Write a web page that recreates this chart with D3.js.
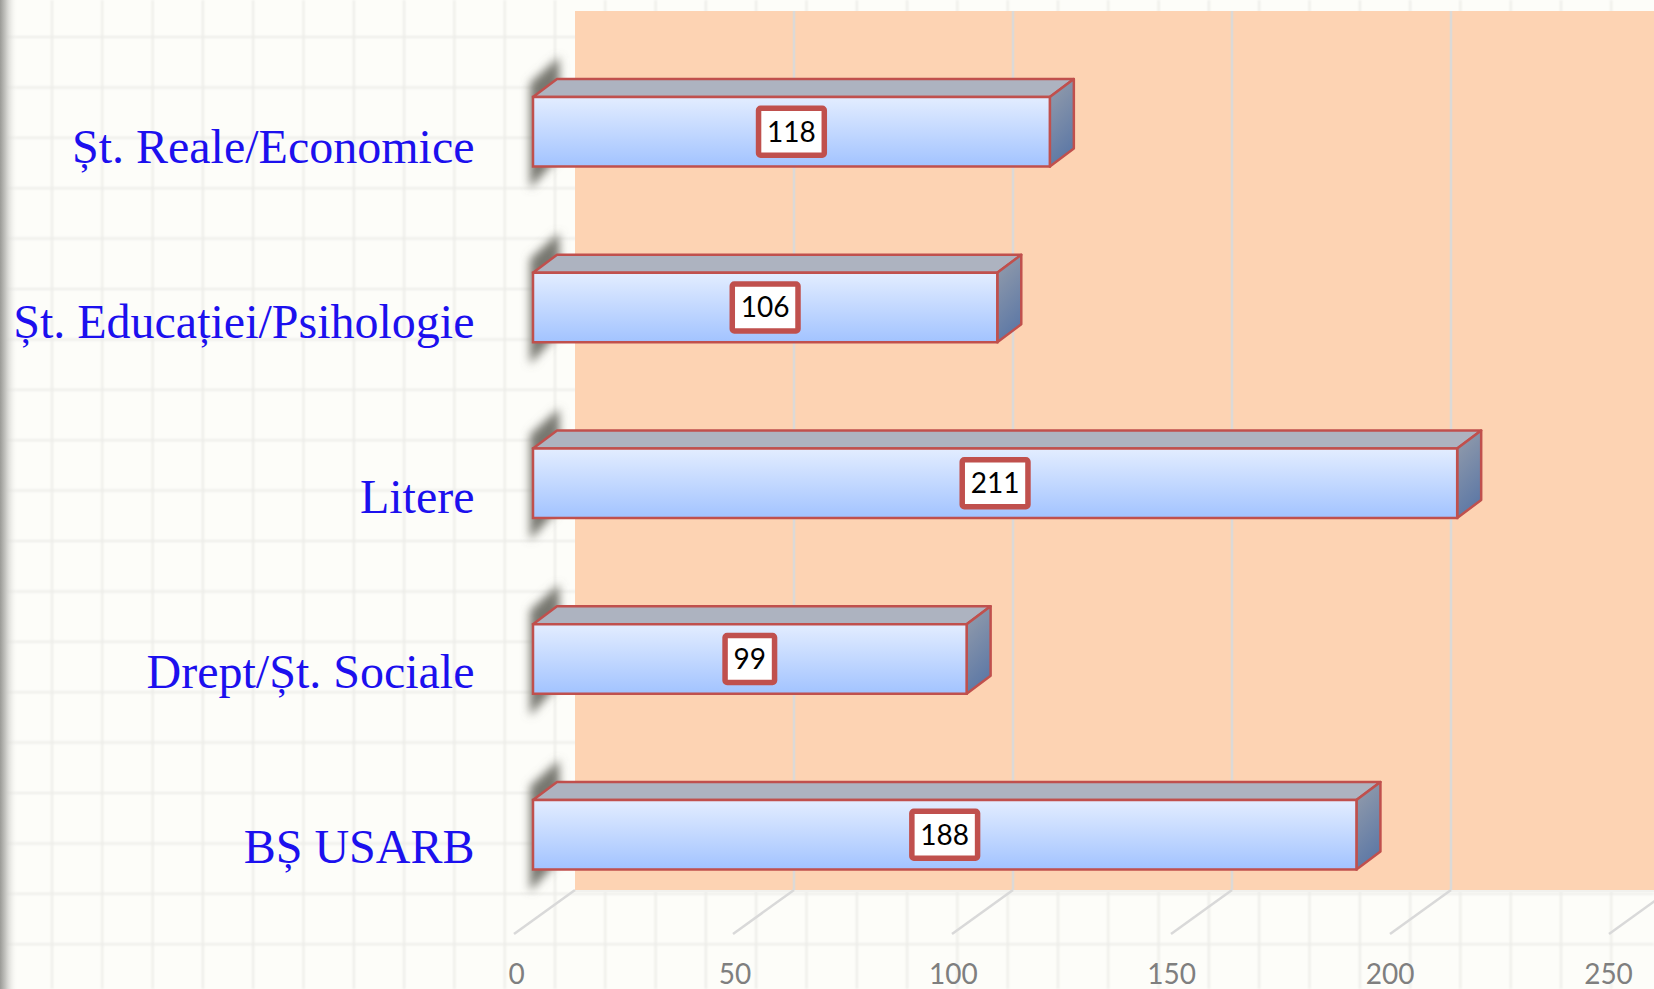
<!DOCTYPE html>
<html>
<head>
<meta charset="utf-8">
<script src="https://cdn.jsdelivr.net/npm/d3@7"></script>
<style>
    html, body { margin: 0; padding: 0; background: #fdfdf9; overflow: hidden; }
    svg { display: block; }
</style>
</head>
<body>
<div class="chart"></div>
<script>
let categories = ["Șt. Reale/Economice", "Șt. Educației/Psihologie", "Litere", "Drept/Șt. Sociale", "BȘ USARB"];
let values = [118, 106, 211, 99, 188];
let xTicks = [0, 50, 100, 150, 200, 250];

let width = 1654;
let height = 989;

let red = "#c0504d";

// depth of the fake 3d: bars are shallower than the chart floor
let barDx = 24, barDy = 18;
let wallDx = 42, floorDx = 19, floorTop = 890, floorBottom = 934;

let xScale = d3.scaleLinear()
    .domain([0, 250])
    .range([533, 1628]);

// tick labels sit on the front of the floor, a bit tighter than the bars
let axisScale = d3.scaleLinear()
    .domain([0, 250])
    .range([516, 1608]);

let yScale = d3.scaleBand()
    .domain(categories)
    .range([43.87, 922.62])
    .paddingInner(0.6046)
    .paddingOuter(0.3023);

// category text runs on a slightly tighter step than the bars
let labelY = d3.scalePoint()
    .domain(categories)
    .range([163, 863]);

let svg = d3.select(".chart").append("svg")
    .attr("width", width)
    .attr("height", height);

let defs = svg.append("defs");

let frontGrad = defs.append("linearGradient")
    .attr("id", "front")
    .attr("x1", 0).attr("y1", 0).attr("x2", 0).attr("y2", 1);
frontGrad.append("stop").attr("offset", "0%").attr("stop-color", "#e3edff");
frontGrad.append("stop").attr("offset", "100%").attr("stop-color", "#a2c3ff");

let sideGrad = defs.append("linearGradient")
    .attr("id", "side")
    .attr("x1", 0).attr("y1", 0).attr("x2", 0.3).attr("y2", 1);
sideGrad.append("stop").attr("offset", "0%").attr("stop-color", "#969eab");
sideGrad.append("stop").attr("offset", "100%").attr("stop-color", "#5e79a6");

let edgeGrad = defs.append("linearGradient")
    .attr("id", "edge")
    .attr("x1", 0).attr("y1", 0).attr("x2", 1).attr("y2", 0);
edgeGrad.append("stop").attr("offset", "0%").attr("stop-color", "#9a9a96");
edgeGrad.append("stop").attr("offset", "30%").attr("stop-color", "#c4c4c0");
edgeGrad.append("stop").attr("offset", "100%").attr("stop-color", "#fdfdf9").attr("stop-opacity", 0);

defs.append("filter")
    .attr("id", "blur")
    .attr("x", "-80%").attr("y", "-30%").attr("width", "260%").attr("height", "160%")
    .append("feGaussianBlur")
    .attr("stdDeviation", 5);

defs.append("filter")
    .attr("id", "soft")
    .attr("x", "0").attr("y", "0").attr("width", "100%").attr("height", "100%")
    .attr("filterUnits", "userSpaceOnUse")
    .append("feGaussianBlur")
    .attr("stdDeviation", 0.8);

// paper background, a square grid behind the chart
let paper = svg.append("g").attr("class", "paper");

let paperGrid = paper.append("g").attr("filter", "url(#soft)");

paperGrid.selectAll(".v")
    .data(d3.range(0, 33))
    .join("line")
    .attr("class", "v")
    .attr("x1", d => 52 + d * 50.3)
    .attr("x2", d => 52 + d * 50.3)
    .attr("y1", 0)
    .attr("y2", height)
    .attr("stroke", "#e6e6e2")
    .attr("stroke-width", 1.5);

paperGrid.selectAll(".h")
    .data(d3.range(0, 20))
    .join("line")
    .attr("class", "h")
    .attr("x1", 0)
    .attr("x2", width)
    .attr("y1", d => 37 + d * 50.4)
    .attr("y2", d => 37 + d * 50.4)
    .attr("stroke", "#ecece8")
    .attr("stroke-width", 2);

paper.append("rect")
    .attr("width", 18)
    .attr("height", height)
    .attr("fill", "url(#edge)");

// back wall
let wallLeft = xScale(0) + wallDx;

svg.append("rect")
    .attr("x", wallLeft)
    .attr("y", 11)
    .attr("width", width - wallLeft)
    .attr("height", floorTop - 11)
    .attr("fill", "#fdd3b3");

svg.append("line")
    .attr("x1", wallLeft)
    .attr("x2", width)
    .attr("y1", floorTop + 1)
    .attr("y2", floorTop + 1)
    .attr("stroke", "#f1f1ee")
    .attr("stroke-width", 2);

svg.selectAll(".wall-grid")
    .data(xTicks.slice(1))
    .join("line")
    .attr("class", "wall-grid")
    .attr("x1", d => xScale(d) + wallDx)
    .attr("x2", d => xScale(d) + wallDx)
    .attr("y1", 11)
    .attr("y2", floorTop)
    .attr("stroke", "#dcd9d6")
    .attr("stroke-width", 2.5);

svg.selectAll(".floor-grid")
    .data(xTicks)
    .join("line")
    .attr("class", "floor-grid")
    .attr("x1", d => xScale(d) + wallDx)
    .attr("x2", d => xScale(d) - floorDx)
    .attr("y1", floorTop)
    .attr("y2", floorBottom)
    .attr("stroke", "#d9d9d9")
    .attr("stroke-width", 2.5);

// value axis, only its labels are visible
let xAxis = svg.append("g")
    .attr("class", "axis x-axis")
    .attr("transform", `translate(0,${floorBottom})`)
    .call(d3.axisBottom(axisScale).tickValues(xTicks).tickSize(0).tickPadding(30));

xAxis.select(".domain").remove();

xAxis.selectAll("text")
    .attr("font-family", "Lato")
    .attr("font-size", 28)
    .attr("fill", "#7f7f7f");

// category labels
svg.selectAll(".cat")
    .data(categories)
    .join("text")
    .attr("class", "cat")
    .attr("x", 474.5)
    .attr("y", d => labelY(d))
    .attr("text-anchor", "end")
    .attr("font-family", "Liberation Serif")
    .attr("font-size", 48)
    .attr("fill", "#1c10ee")
    .text(d => d);

let bars = svg.selectAll(".bar")
    .data(categories.map((c, i) => ({ name: c, value: values[i] })))
    .join("g")
    .attr("class", "bar");

// soft shadow that falls out to the left of each bar
bars.append("path")
    .attr("d", d => {
        let x0 = xScale(0), y0 = yScale(d.name), h = yScale.bandwidth();
        return d3.line()([
            [x0 - 3, y0 - 14],
            [x0 + 26, y0 - 40],
            [x0 + 28, y0 + h - 12],
            [x0 - 3, y0 + h + 22]
        ]);
    })
    .attr("fill", "#77776f")
    .attr("filter", "url(#blur)");

// top face
bars.append("path")
    .attr("d", d => {
        let x0 = xScale(0), x1 = xScale(d.value), y0 = yScale(d.name);
        return d3.line()([
            [x0, y0],
            [x0 + barDx, y0 - barDy],
            [x1 + barDx, y0 - barDy],
            [x1, y0]
        ]) + "Z";
    })
    .attr("fill", "#adb3c0")
    .attr("stroke", red)
    .attr("stroke-width", 2.5)
    .attr("stroke-linejoin", "round");

// side face
bars.append("path")
    .attr("d", d => {
        let x1 = xScale(d.value), y0 = yScale(d.name), h = yScale.bandwidth();
        return d3.line()([
            [x1, y0],
            [x1 + barDx, y0 - barDy],
            [x1 + barDx, y0 + h - barDy],
            [x1, y0 + h]
        ]) + "Z";
    })
    .attr("fill", "url(#side)")
    .attr("stroke", red)
    .attr("stroke-width", 2.5)
    .attr("stroke-linejoin", "round");

// front face
bars.append("rect")
    .attr("x", xScale(0))
    .attr("y", d => yScale(d.name))
    .attr("width", d => xScale(d.value) - xScale(0))
    .attr("height", yScale.bandwidth())
    .attr("fill", "url(#front)")
    .attr("stroke", red)
    .attr("stroke-width", 2.5);

// value labels, box is sized from the text
let labels = bars.append("g")
    .attr("transform", d => `translate(${xScale(d.value / 2)},${yScale(d.name) + yScale.bandwidth() / 2})`);

let labelBox = labels.append("rect")
    .attr("y", -23.5)
    .attr("height", 47)
    .attr("rx", 2)
    .attr("fill", "#ffffff")
    .attr("stroke", red)
    .attr("stroke-width", 5.5);

let labelText = labels.append("text")
    .attr("text-anchor", "middle")
    .attr("y", 10)
    .attr("font-family", "Lato")
    .attr("font-size", 28)
    .attr("fill", "#000000")
    .text(d => d.value);

labelBox.each(function (d, i) {
    let w = labelText.nodes()[i].getComputedTextLength() + 17;
    d3.select(this).attr("x", -w / 2).attr("width", w);
});
</script>
</body>
</html>
